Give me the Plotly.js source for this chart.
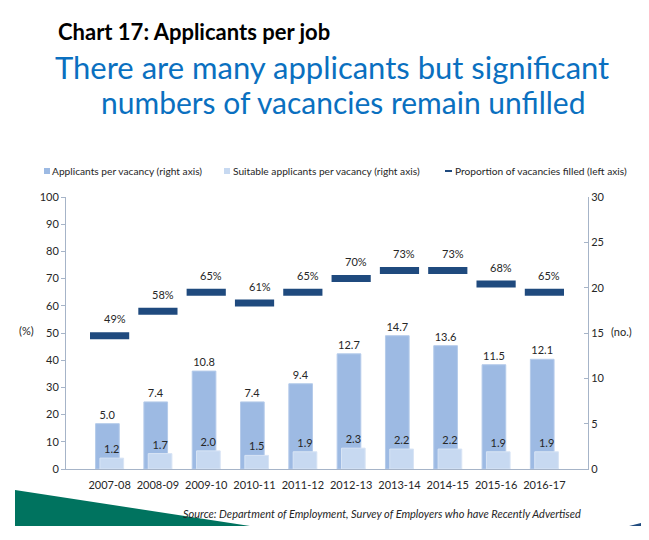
<!DOCTYPE html>
<html>
<head>
<meta charset="utf-8">
<script src="https://cdn.plot.ly/plotly-3.0.1.min.js"></script>
<style>html,body{margin:0;padding:0;background:#fff;}#chart{width:649px;height:540px;}</style>
</head>
<body>
<div id="chart"></div>
<script>
const years = ["2007-08","2008-09","2009-10","2010-11","2011-12","2012-13","2013-14","2014-15","2015-16","2016-17"];
const applicants = [5.0, 7.4, 10.8, 7.4, 9.4, 12.7, 14.7, 13.6, 11.5, 12.1];
const suitable = [1.2, 1.7, 2.0, 1.5, 1.9, 2.3, 2.2, 2.2, 1.9, 1.9];
const filledPct = [49, 58, 65, 61, 65, 70, 73, 73, 68, 65];
const seriesNames = ["Applicants per vacancy (right axis)", "Suitable applicants per vacancy (right axis)", "Proportion of vacancies filled (left axis)"];

const FONT = "Lato, 'Open Sans', sans-serif";
const TXT = "#262626";
const C_APP = "#9DBAE3", C_SUIT = "#C7D9F1", C_LINE = "#1F4A7E";

const traces = [
  {
    type: "bar", name: seriesNames[0],
    x: years, y: applicants, yaxis: "y2",
    width: 0.49, offset: -0.29,
    marker: {color: C_APP, line: {color: "#B5CBEA", width: 1}},
    text: applicants.map(v => v.toFixed(1)), textposition: "outside",
    textfont: {family: FONT, size: 11, color: TXT}, cliponaxis: false
  },
  {
    type: "bar", name: seriesNames[1],
    x: years, y: suitable, yaxis: "y2",
    width: 0.49, offset: -0.2,
    marker: {color: C_SUIT, line: {color: "#D8E4F5", width: 1}},
    text: suitable.map(v => v.toFixed(1)), textposition: "outside",
    textfont: {family: FONT, size: 11, color: TXT}, cliponaxis: false
  },
  {
    type: "scatter", mode: "markers", name: seriesNames[2],
    x: years, y: filledPct, yaxis: "y",
    marker: {symbol: "line-ew", size: 28, color: C_LINE, line: {color: C_LINE, width: 7}},
    cliponaxis: false
  }
];

const annotations = filledPct.map((v, i) => ({
  x: years[i], y: v, xref: "x", yref: "y",
  text: v + "%", showarrow: false, xshift: 5, yshift: 17,
  font: {family: FONT, size: 11, color: TXT}
}));
const P = (px) => (px - 66) / 522;      // pixel x -> paper x
const Q = (py) => (469 - py) / 272;     // pixel y -> paper y
annotations.push(
  {xref: "paper", yref: "paper", x: P(36), y: Q(330), text: "(%)", showarrow: false, xanchor: "right", yanchor: "middle", font: {family: FONT, size: 11, color: TXT}},
  {xref: "paper", yref: "paper", x: P(609), y: Q(331), text: "(no.)", showarrow: false, xanchor: "left", yanchor: "middle", font: {family: FONT, size: 11, color: TXT}},
  {xref: "paper", yref: "paper", x: P(56), y: Q(31), text: "<b>Chart 17: Applicants per job</b>", showarrow: false, xanchor: "left", yanchor: "middle", font: {family: FONT, size: 22, color: "#000"}},
  {xref: "paper", yref: "paper", x: P(332), y: Q(67), text: "There are many applicants but significant", showarrow: false, xanchor: "center", yanchor: "middle", font: {family: FONT, size: 31, color: "#0A70C0"}},
  {xref: "paper", yref: "paper", x: P(343), y: Q(102), text: "numbers of vacancies remain unfilled", showarrow: false, xanchor: "center", yanchor: "middle", font: {family: FONT, size: 30, color: "#0A70C0"}},
  {xref: "paper", yref: "paper", x: P(583), y: Q(513), text: "<i>Source: Department of Employment, Survey of Employers who have Recently Advertised</i>", showarrow: false, xanchor: "right", yanchor: "middle", font: {family: FONT, size: 11, color: TXT}},
  {xref: "paper", yref: "paper", x: P(50), y: Q(171), text: seriesNames[0], showarrow: false, xanchor: "left", yanchor: "middle", font: {family: FONT, size: 10.2, color: TXT}},
  {xref: "paper", yref: "paper", x: P(231), y: Q(171), text: seriesNames[1], showarrow: false, xanchor: "left", yanchor: "middle", font: {family: FONT, size: 10.2, color: TXT}},
  {xref: "paper", yref: "paper", x: P(453), y: Q(171), text: seriesNames[2], showarrow: false, xanchor: "left", yanchor: "middle", font: {family: FONT, size: 10.2, color: TXT}}
);

const layout = {
  width: 649, height: 540,
  margin: {l: 66, r: 61, t: 197, b: 71},
  paper_bgcolor: "#fff", plot_bgcolor: "#fff",
  barmode: "overlay",
  showlegend: false,
  xaxis: {type: "category", showline: true, linecolor: "#A6B4C8", linewidth: 1, ticks: "",
          ticklabelstandoff: 6,
          tickfont: {family: FONT, size: 11, color: TXT}, showgrid: false, zeroline: false},
  yaxis: {range: [0, 100], dtick: 10, showline: true, linecolor: "#A6B4C8", linewidth: 1,
          ticks: "outside", ticklen: 4, tickcolor: "#A6B4C8", showgrid: false, zeroline: false,
          tickfont: {family: FONT, size: 11, color: TXT}},
  yaxis2: {range: [0, 30], dtick: 5, overlaying: "y", side: "right", showline: true,
           linecolor: "#A6B4C8", linewidth: 1, ticks: "inside", ticklen: 4, tickcolor: "#A6B4C8",
           showgrid: false, zeroline: false, tickfont: {family: FONT, size: 11, color: TXT}},
  annotations: annotations,
  shapes: [
    {type: "rect", xref: "paper", yref: "paper", x0: P(44), x1: P(50), y0: Q(174), y1: Q(168), fillcolor: C_APP, line: {width: 0}},
    {type: "rect", xref: "paper", yref: "paper", x0: P(224), x1: P(230), y0: Q(174), y1: Q(168), fillcolor: C_SUIT, line: {width: 0}},
    {type: "rect", xref: "paper", yref: "paper", x0: P(445), x1: P(452), y0: Q(172), y1: Q(170), fillcolor: C_LINE, line: {width: 0}},
    {type: "path", xref: "paper", yref: "paper", layer: "below",
     path: `M ${P(15)},${Q(490)} L ${P(15)},${Q(526)} L ${P(250)},${Q(526)} Z`,
     fillcolor: "#00735F", line: {width: 0}},
    {type: "path", xref: "paper", yref: "paper", layer: "below",
     path: `M ${P(629)},${Q(526)} L ${P(641)},${Q(523)} L ${P(641)},${Q(526)} Z`,
     fillcolor: C_LINE, line: {width: 0}}
  ]
};

Plotly.newPlot("chart", traces, layout, {displayModeBar: false, staticPlot: true});
</script>
</body>
</html>
